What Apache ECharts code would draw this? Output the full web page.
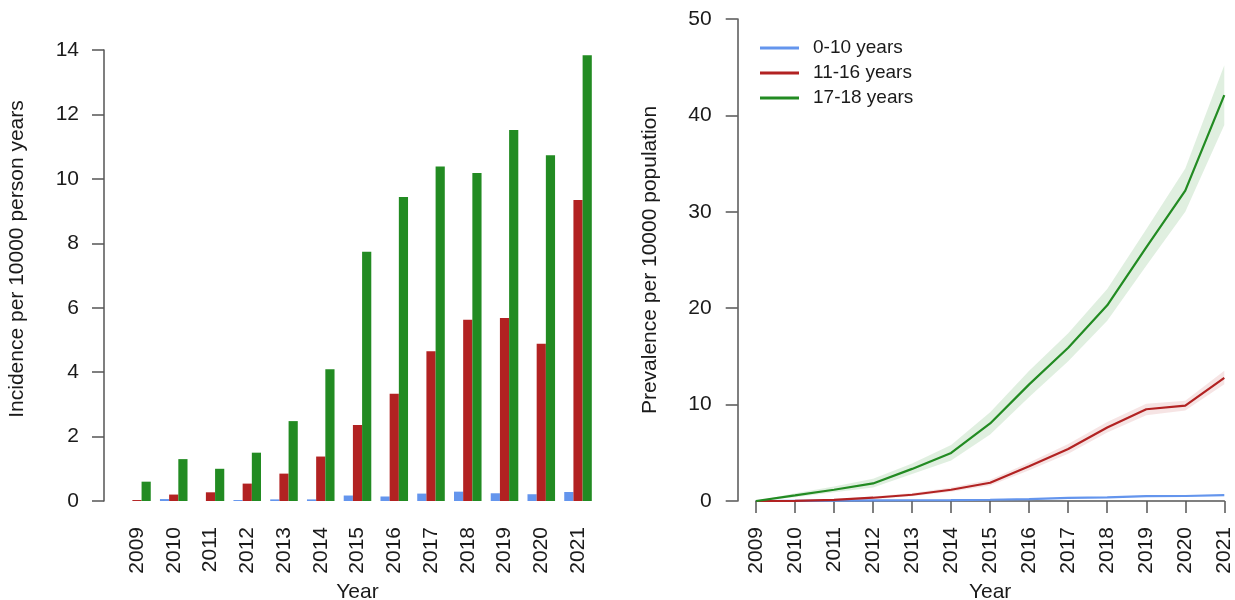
<!DOCTYPE html>
<html>
<head>
<meta charset="utf-8">
<script src="https://cdn.jsdelivr.net/npm/echarts@6/dist/echarts.min.js"></script>
<style>
  html, body { margin: 0; padding: 0; background: #fff; }
  #chart { width: 1235px; height: 600px; }
</style>
</head>
<body>
<div id="chart"></div>
<script>
// values
const years = ['2009', '2010', '2011', '2012', '2013', '2014', '2015', '2016', '2017', '2018', '2019', '2020', '2021'];
const groups = ['0-10 years', '11-16 years', '17-18 years'];

// incidence per 10000 person years (left panel)
const incYoung = [0, 0.06, 0, 0.03, 0.05, 0.05, 0.17, 0.14, 0.23, 0.29, 0.24, 0.21, 0.28];
const incMid = [0.03, 0.2, 0.27, 0.54, 0.85, 1.38, 2.36, 3.33, 4.65, 5.63, 5.68, 4.88, 9.34];
const incOld = [0.6, 1.3, 1.0, 1.5, 2.48, 4.09, 7.74, 9.44, 10.38, 10.18, 11.52, 10.73, 13.84];

// prevalence per 10000 population (right panel) with interval bounds
const prevYoung = [0, 0.02, 0.04, 0.06, 0.08, 0.1, 0.13, 0.2, 0.33, 0.38, 0.5, 0.52, 0.6];
const prevYoungLow = [0, 0, 0.01, 0.02, 0.04, 0.06, 0.09, 0.15, 0.27, 0.31, 0.43, 0.45, 0.52];
const prevYoungHigh = [0, 0.04, 0.07, 0.1, 0.12, 0.14, 0.18, 0.25, 0.39, 0.45, 0.57, 0.59, 0.68];
const prevMid = [0, 0.02, 0.12, 0.34, 0.65, 1.17, 1.89, 3.6, 5.4, 7.63, 9.52, 9.9, 12.78];
const prevMidLow = [0, 0, 0.05, 0.22, 0.48, 0.95, 1.6, 3.2, 4.9, 7.1, 8.9, 9.4, 12.1];
const prevMidHigh = [0, 0.05, 0.2, 0.46, 0.82, 1.4, 2.2, 4.0, 5.9, 8.2, 10.1, 10.4, 13.5];
const prevOld = [0, 0.58, 1.17, 1.82, 3.33, 4.98, 8.04, 12.1, 15.9, 20.3, 26.3, 32.2, 42.1];
const prevOldLow = [0, 0.4, 0.9, 1.4, 2.8, 4.2, 6.9, 10.8, 14.5, 18.7, 24.4, 30.0, 39.0];
const prevOldHigh = [0, 0.8, 1.5, 2.3, 3.9, 5.8, 9.2, 13.5, 17.4, 22.0, 28.2, 34.5, 45.2];

const colors = ['#6495ED', '#B22222', '#228B22'];
const bandColors = ['rgba(100,149,237,0.18)', 'rgba(178,34,34,0.12)', 'rgba(34,139,34,0.14)'];
const font = 'Liberation Sans, Arial, sans-serif';
const axisGray = '#555';
const textColor = '#1a1a1a';

function barSeries(name, data, color) {
  return {
    name: name,
    type: 'bar',
    xAxisIndex: 0,
    yAxisIndex: 0,
    data: data,
    barWidth: '25%',
    barGap: '0%',
    itemStyle: { color: color },
    silent: true,
  };
}

function bandSeries(key, low, high, color) {
  return [
    {
      name: key + '-low',
      type: 'line',
      xAxisIndex: 1,
      yAxisIndex: 1,
      stack: key,
      data: low,
      showSymbol: false,
      lineStyle: { opacity: 0 },
      silent: true,
    },
    {
      name: key + '-band',
      type: 'line',
      xAxisIndex: 1,
      yAxisIndex: 1,
      stack: key,
      data: high.map((v, i) => +(v - low[i]).toFixed(3)),
      showSymbol: false,
      lineStyle: { opacity: 0 },
      areaStyle: { color: color, opacity: 1 },
      silent: true,
    },
  ];
}

function lineSeries(name, data, color) {
  return {
    name: name,
    type: 'line',
    xAxisIndex: 1,
    yAxisIndex: 1,
    data: data,
    showSymbol: false,
    lineStyle: { color: color, width: 2.2 },
    itemStyle: { color: color },
    z: 5,
    silent: true,
  };
}

const chart = echarts.init(document.getElementById('chart'), null, { renderer: 'canvas' });

chart.setOption({
  animation: false,
  textStyle: { fontFamily: font },
  grid: [
    { left: 118.6, right: 1235 - 596.4, top: 50, bottom: 99, containLabel: false, outerBoundsMode: 'none' },
    { left: 756, right: 10.7, top: 19, bottom: 99, containLabel: false, outerBoundsMode: 'none' },
  ],
  legend: {
    data: groups,
    orient: 'vertical',
    left: 755,
    top: 33,
    itemWidth: 39,
    itemHeight: 3,
    itemGap: 5,
    icon: 'rect',
    textStyle: { fontSize: 19, color: textColor, lineHeight: 20, padding: [0, 0, 0, 9], fontFamily: font },
    selectedMode: false,
  },
  xAxis: [
    {
      gridIndex: 0,
      type: 'category',
      data: years,
      axisLine: { show: false },
      axisTick: { show: false },
      axisLabel: { rotate: 90, margin: 26, fontSize: 21, color: textColor },
      name: 'Year',
      nameLocation: 'middle',
      nameGap: 79,
      nameTextStyle: { fontSize: 21, color: textColor },
    },
    {
      gridIndex: 1,
      type: 'category',
      data: years,
      boundaryGap: false,
      axisLine: { show: true, lineStyle: { color: axisGray, width: 1.5 } },
      axisTick: { show: true, length: 12, lineStyle: { color: axisGray, width: 1.5 } },
      axisLabel: { rotate: 90, margin: 26, fontSize: 21, color: textColor },
      name: 'Year',
      nameLocation: 'middle',
      nameGap: 79,
      nameTextStyle: { fontSize: 21, color: textColor },
    },
  ],
  yAxis: [
    {
      gridIndex: 0,
      type: 'value',
      min: 0,
      max: 14,
      interval: 2,
      offset: 14.6,
      splitLine: { show: false },
      axisLine: { show: true, lineStyle: { color: axisGray, width: 1.5 } },
      axisTick: { show: true, length: 12, lineStyle: { color: axisGray, width: 1.5 } },
      axisLabel: { margin: 25, fontSize: 21, color: textColor },
      name: 'Incidence per 10000 person years',
      nameLocation: 'middle',
      nameGap: 76,
      nameTextStyle: { fontSize: 21, color: textColor, padding: [0, 0, 0, 33] },
    },
    {
      gridIndex: 1,
      type: 'value',
      min: 0,
      max: 50,
      interval: 10,
      offset: 18.3,
      splitLine: { show: false },
      axisLine: { show: true, lineStyle: { color: axisGray, width: 1.5 } },
      axisTick: { show: true, length: 12, lineStyle: { color: axisGray, width: 1.5 } },
      axisLabel: { margin: 26, fontSize: 21, color: textColor },
      name: 'Prevalence per 10000 population',
      nameLocation: 'middle',
      nameGap: 77,
      nameTextStyle: { fontSize: 21, color: textColor },
    },
  ],
  series: [
    barSeries(groups[0], incYoung, colors[0]),
    barSeries(groups[1], incMid, colors[1]),
    barSeries(groups[2], incOld, colors[2]),
    ...bandSeries('young', prevYoungLow, prevYoungHigh, bandColors[0]),
    ...bandSeries('mid', prevMidLow, prevMidHigh, bandColors[1]),
    ...bandSeries('old', prevOldLow, prevOldHigh, bandColors[2]),
    lineSeries(groups[0], prevYoung, colors[0]),
    lineSeries(groups[1], prevMid, colors[1]),
    lineSeries(groups[2], prevOld, colors[2]),
  ],
});
</script>
</body>
</html>
